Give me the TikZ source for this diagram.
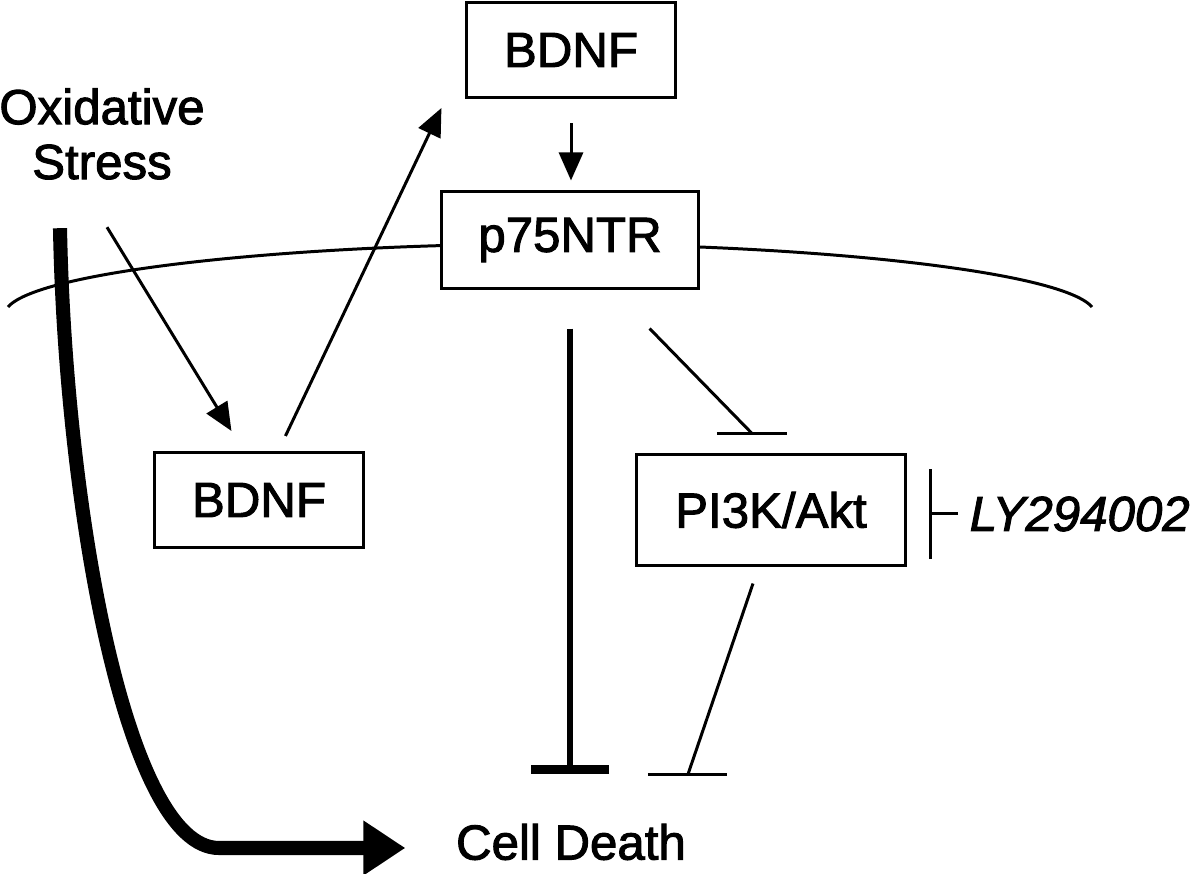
\documentclass[tikz,border=0pt]{standalone}
\usepackage{fontspec}
\setmainfont[FakeBold=2]{Liberation Sans}
\usetikzlibrary{arrows.meta}

\begin{document}
\begin{tikzpicture}[x=0.01cm, y=-0.01cm,
      font=\fontsize{14}{15.6}\selectfont,
      box/.style={draw, line width=0.85pt, fill=white, minimum height=0.95cm, inner sep=0pt},
      txt/.style={inner sep=0pt, align=center},
      act/.style={line width=0.85pt, -{Triangle[length=0.28cm, width=0.24cm]}},
      inh/.style={line width=0.85pt},
      inhthick/.style={line width=1.7pt}]
   \useasboundingbox (0,0) rectangle (1200,874);
   % membrane
   \draw[line width=0.85pt] (8,307) .. controls (40,270) and (300,244) .. (550,244)
      .. controls (800,244) and (1060,270) .. (1092,307);
   \node[box, minimum width=2.08cm] (bdnfTop) at (571,50) {BDNF};
   \node[box, minimum width=2.56cm, minimum height=0.96cm] (p75) at (570,240) {p75NTR};
   \node[box, minimum width=2.08cm] (bdnfLow) at (259,500) {BDNF};
   \node[box, minimum width=2.68cm, minimum height=1.1cm] (pik) at (771,510) {PI3K/Akt};
   \node[txt] (oxid) at (102,134) {Oxidative\\Stress};
   \node[txt] (death) at (571,842) {Cell Death};
   \node[txt, anchor=west, font=\fontsize{14}{15.6}\selectfont\itshape] (ly) at (969,514) {LY294002};
   \draw[act] ([yshift=-0.24cm]bdnfTop.south) -- ([yshift=0.1cm]bdnfTop.south |- p75.north);
   \draw[act] ([shift={(5,47)}]oxid.south) -- ([shift={(78,-20)}]bdnfLow.north west);
   \draw[act] ([shift={(132,-15)}]bdnfLow.north west) -- ([shift={(-24,9)}]bdnfTop.south west);
   \draw[line width=4pt, -{Triangle[length=0.42cm, width=0.52cm]}] ([shift={(-42,48)}]oxid.south)
      .. controls (65,500) and (125,848) .. (219,848) -- ([shift={(-50,6)}]death.west);
   \draw[inhthick, -{Bar[width=0.78cm, line width=2.5pt]}, shorten <=0.39cm, shorten >=0.49cm]
      (p75.south) -- (p75.south |- death.north);
   \draw[inh] ([shift={(-50,39)}]p75.south east) -- ([shift={(-19,-20)}]pik.north) coordinate (barA);
   \draw[inh] ([xshift=-0.35cm]barA) -- ([xshift=0.35cm]barA);
   \draw[inh] ([shift={(-18,17)}]pik.south) -- ([shift={(117,-49)}]death.north) coordinate (barB);
   \draw[inh] ([xshift=-0.4cm]barB) -- ([xshift=0.39cm]barB);
   \draw[inh, -{Bar[width=0.9cm]}] ([xshift=-0.11cm]ly.west) -- ([xshift=-0.4cm]ly.west);
\end{tikzpicture}
\end{document}
